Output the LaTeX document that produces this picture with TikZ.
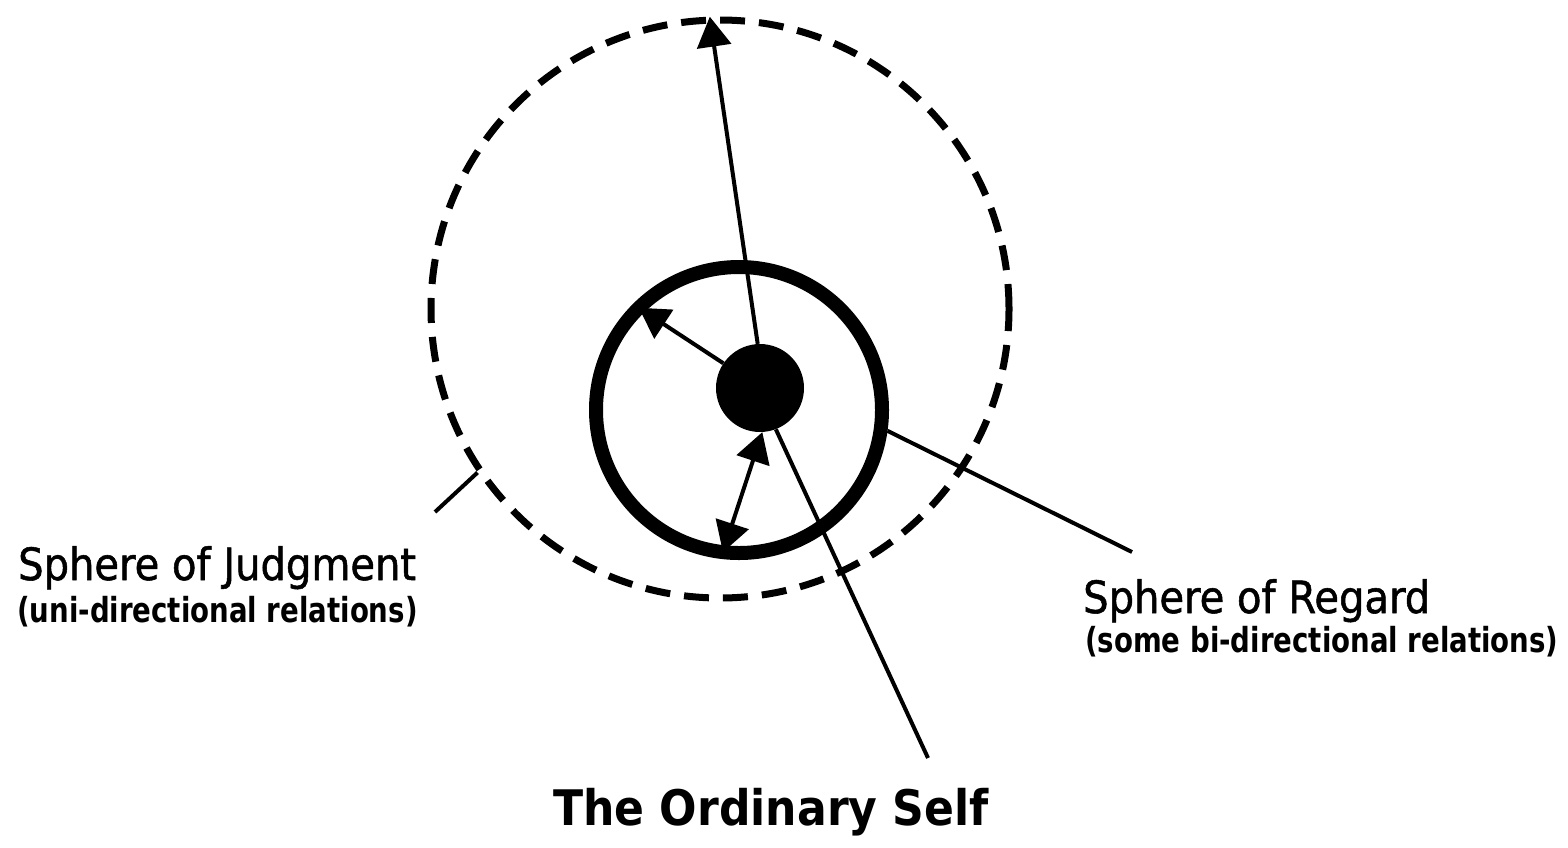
\documentclass[tikz,border=0pt]{standalone}
\usepackage{fontspec}
\setmainfont{DejaVu Sans}[FakeStretch=0.9]
\newfontfamily\captionfont{DejaVu Sans}[FakeStretch=0.9, FakeBold=1.2]
\newfontfamily\notefont{DejaVu Sans}[FakeStretch=0.8]
\usetikzlibrary{arrows.meta}

\tikzset{
    link/.style={line width=4pt},
    >={Triangle[length=30pt,width=34pt]},
    caption/.style={anchor=base west, inner sep=0pt,
        font=\captionfont\fontsize{44.5}{50}\selectfont},
    note/.style={anchor=base west, inner sep=0pt,
        font=\notefont\bfseries\fontsize{34.5}{40}\selectfont},
}

\begin{document}
\begin{tikzpicture}[x=1pt, y=-1pt]
    \useasboundingbox (0,0) rectangle (1568,847);

    % Spheres and self
    \node[circle, draw, line width=7pt, dash pattern=on 25pt off 14pt,
        minimum size=578pt, inner sep=0pt] (judgment) at (720,309) {};
    \node[circle, draw, line width=14pt, minimum size=286pt,
        inner sep=0pt] (regard) at (739,410) {};
    \node[circle, fill, minimum size=88pt, inner sep=0pt] (self) at (760,388) {};

    % Relations
    \draw[link, ->] (self.93) -- (judgment.92);
    \draw[link, ->, shorten >=7pt] (self.146) -- (regard.135);
    \draw[link, <->, shorten >=7pt] (self.273) -- (regard.263);

    % Leaders
    \coordinate (judgtip) at (435,512);
    \coordinate (regardtip) at (1132,552);
    \coordinate (selftip) at (928,758);
    \draw[link] (judgtip) -- (judgment.214);
    \draw[link] (regard.-8) -- (regardtip);
    \draw[link] (self.-69) -- (selftip);

    % Labels
    \node[caption] (judglabel) at (18,580) {Sphere of Judgment};
    \node[note] (judgnote) at (17,622) {(uni-directional relations)};
    \node[caption] (regardlabel) at (1083,613) {Sphere of Regard};
    \node[note] (regardnote) at (1085,652) {(some bi-directional relations)};
    \node[caption, font=\bfseries\fontsize{49}{55}\selectfont]
        (selflabel) at (553,825) {The Ordinary Self};
\end{tikzpicture}
\end{document}
